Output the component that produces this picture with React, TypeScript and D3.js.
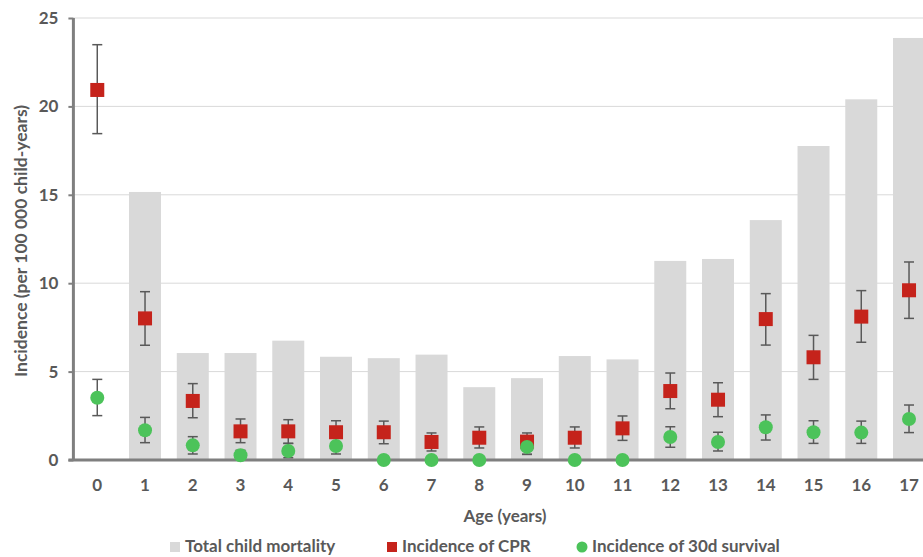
import React, { useEffect, useRef } from "react";
import * as d3 from "d3";

// age groups (years)
const ages = ["0", "1", "2", "3", "4", "5", "6", "7", "8", "9", "10", "11", "12", "13", "14", "15", "16", "17"];

// total child mortality (bars); no bar at age 0
const mortality = [null, 15.16, 6.05, 6.05, 6.75, 5.84, 5.76, 5.96, 4.12, 4.63, 5.88, 5.69, 11.26, 11.37, 13.57, 17.76, 20.4, 23.87];

// incidence of CPR with 95% CI
const cpr = [20.93, 8.01, 3.34, 1.62, 1.62, 1.57, 1.57, 1.02, 1.26, 1.04, 1.26, 1.79, 3.9, 3.41, 7.97, 5.81, 8.11, 9.6];
const cprLow = [18.46, 6.49, 2.39, 0.98, 0.94, 0.92, 0.92, 0.51, 0.68, 0.32, 0.68, 1.11, 2.9, 2.45, 6.5, 4.56, 6.66, 8.01];
const cprHigh = [23.49, 9.52, 4.32, 2.32, 2.28, 2.22, 2.2, 1.53, 1.87, 1.53, 1.87, 2.49, 4.92, 4.37, 9.41, 7.05, 9.58, 11.2];

// incidence of 30d survival with 95% CI
const surv = [3.52, 1.68, 0.83, 0.27, 0.51, 0.79, 0, 0, 0, 0.74, 0, 0, 1.3, 1.02, 1.85, 1.57, 1.55, 2.32];
const survLow = [2.51, 0.98, 0.34, 0.05, 0.13, 0.34, null, null, null, 0.32, null, null, 0.72, 0.51, 1.13, 0.94, 0.94, 1.55];
const survHigh = [4.56, 2.41, 1.32, 0.55, 0.94, 1.4, null, null, null, 1.3, null, null, 1.88, 1.57, 2.55, 2.22, 2.2, 3.11];

const yTicks = [0, 5, 10, 15, 20, 25];

const W = 923;
const H = 557;
const FONT = "Lato, 'Open Sans', sans-serif";
const TXT = "#595959";

export default function App() {
  const ref = useRef<SVGSVGElement>(null);

  useEffect(() => {
    const svg = d3.select(ref.current);
    svg.selectAll("*").remove();

    const left = 73.4;
    const top = 18;
    const bottom = 460;
    const band = 47.75;

    const x = d3
      .scaleBand()
      .domain(ages)
      .range([left, left + band * ages.length])
      .paddingInner(0.33)
      .paddingOuter(0.165);
    const cx = (a: string) => (x(a) as number) + x.bandwidth() / 2;

    const y = d3.scaleLinear().domain([0, 25]).range([bottom, top]);

    // gridlines
    svg
      .append("g")
      .selectAll("line")
      .data(yTicks.filter((t) => t > 0))
      .join("line")
      .attr("x1", left)
      .attr("x2", W)
      .attr("y1", (d) => y(d))
      .attr("y2", (d) => y(d))
      .attr("stroke", "#d9d9d9")
      .attr("stroke-width", 1);

    // bars
    svg
      .append("g")
      .selectAll("rect")
      .data(ages.map((a, i) => ({ a, v: mortality[i] })).filter((d) => d.v != null))
      .join("rect")
      .attr("x", (d) => x(d.a) as number)
      .attr("width", x.bandwidth())
      .attr("y", (d) => y(d.v as number))
      .attr("height", (d) => bottom - y(d.v as number))
      .attr("fill", "#d9d9d9");

    // axes
    const yAxis = svg
      .append("g")
      .attr("transform", `translate(${left},0)`)
      .call(d3.axisLeft(y).tickValues(yTicks).tickSize(5).tickPadding(10));
    yAxis.select(".domain").attr("stroke", "#7f7f7f").attr("stroke-width", 3).attr("d", `M0,${top}V${bottom}`);
    yAxis.selectAll(".tick line").attr("stroke", "#7f7f7f").attr("stroke-width", 2);
    yAxis
      .selectAll("text")
      .attr("fill", TXT)
      .attr("font-family", FONT)
      .attr("font-weight", 700)
      .attr("font-size", 17);

    const xAxis = svg
      .append("g")
      .attr("transform", `translate(0,${bottom})`)
      .call(d3.axisBottom(x).tickSize(0).tickPadding(19));
    xAxis.select(".domain").attr("stroke", "#7f7f7f").attr("stroke-width", 3).attr("d", `M${left - 5},0H${W}`);
    xAxis
      .selectAll("text")
      .attr("fill", TXT)
      .attr("font-family", FONT)
      .attr("font-weight", 700)
      .attr("font-size", 17);

    // axis titles
    svg
      .append("text")
      .attr("transform", `translate(27,${(top + bottom) / 2 + 2}) rotate(-90)`)
      .attr("text-anchor", "middle")
      .attr("fill", TXT)
      .attr("font-family", FONT)
      .attr("font-weight", 700)
      .attr("font-size", 17.5)
      .text("Incidence (per 100 000 child-years)");

    svg
      .append("text")
      .attr("x", 505)
      .attr("y", 522)
      .attr("text-anchor", "middle")
      .attr("fill", TXT)
      .attr("font-family", FONT)
      .attr("font-weight", 700)
      .attr("font-size", 17)
      .text("Age (years)");

    // error bars
    const errs = (lo: (number | null)[], hi: (number | null)[]) =>
      ages.map((a, i) => ({ a, lo: lo[i], hi: hi[i] })).filter((d) => d.lo != null && d.hi != null);

    const drawErr = (data: { a: string; lo: number | null; hi: number | null }[]) => {
      const g = svg.append("g").attr("stroke", "#595959").attr("stroke-width", 1.5);
      data.forEach((d) => {
        const c = cx(d.a);
        const y1 = y(d.lo as number);
        const y2 = y(d.hi as number);
        g.append("line").attr("x1", c).attr("x2", c).attr("y1", y1).attr("y2", y2);
        g.append("line").attr("x1", c - 5).attr("x2", c + 5).attr("y1", y1).attr("y2", y1);
        g.append("line").attr("x1", c - 5).attr("x2", c + 5).attr("y1", y2).attr("y2", y2);
      });
    };

    drawErr(errs(cprLow, cprHigh));
    drawErr(errs(survLow, survHigh));

    // CPR squares
    const sq = 14;
    svg
      .append("g")
      .selectAll("rect")
      .data(ages.map((a, i) => ({ a, v: cpr[i] })))
      .join("rect")
      .attr("x", (d) => cx(d.a) - sq / 2)
      .attr("y", (d) => y(d.v) - sq / 2)
      .attr("width", sq)
      .attr("height", sq)
      .attr("fill", "#c5231b");

    // survival circles
    svg
      .append("g")
      .selectAll("circle")
      .data(ages.map((a, i) => ({ a, v: surv[i] })))
      .join("circle")
      .attr("cx", (d) => cx(d.a))
      .attr("cy", (d) => y(d.v))
      .attr("r", 7)
      .attr("fill", "#4cc35a");

    // legend
    const lg = svg.append("g").attr("font-family", FONT).attr("font-weight", 700).attr("font-size", 17).attr("fill", TXT);
    lg.append("rect").attr("x", 170).attr("y", 542).attr("width", 10).attr("height", 10).attr("fill", "#d9d9d9");
    lg.append("text").attr("x", 185).attr("y", 552).text("Total child mortality");
    lg.append("rect").attr("x", 387).attr("y", 542).attr("width", 10).attr("height", 10).attr("fill", "#c5231b");
    lg.append("text").attr("x", 402).attr("y", 552).text("Incidence of CPR");
    lg.append("circle").attr("cx", 582).attr("cy", 547).attr("r", 5.5).attr("fill", "#4cc35a");
    lg.append("text").attr("x", 592).attr("y", 552).text("Incidence of 30d survival");
  }, []);

  return (
    <svg
      ref={ref}
      width={W}
      height={H}
      style={{ position: "absolute", left: 0, top: 0, background: "#fff" }}
    />
  );
}
